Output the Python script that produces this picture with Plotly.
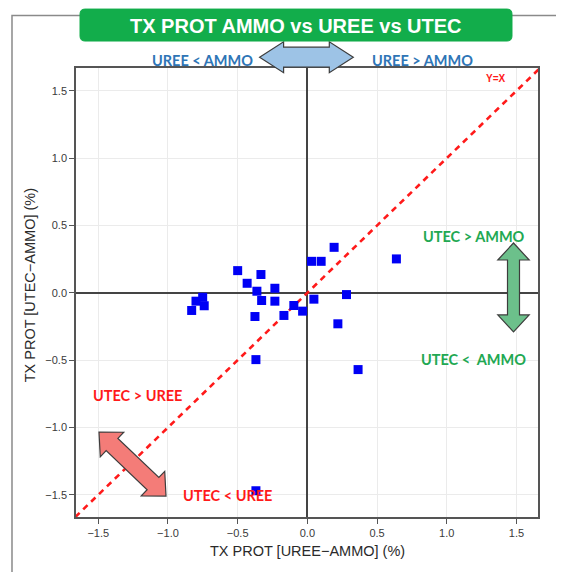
import math
import plotly.graph_objects as go

# ---- data ----
uree_minus_ammo = [0.192, 0.030, 0.099, 0.639, -0.500, -0.333, -0.432, -0.233, -0.362,
                   -0.751, -0.799, -0.328, -0.233, 0.047, 0.281, -0.740, -0.830, -0.097,
                   -0.034, -0.168, -0.376, 0.219, -0.369, 0.364, -0.369]
utec_minus_ammo = [0.338, 0.234, 0.234, 0.252, 0.165, 0.136, 0.071, 0.034, 0.012,
                   -0.033, -0.062, -0.057, -0.062, -0.047, -0.013, -0.096, -0.131, -0.094,
                   -0.136, -0.168, -0.176, -0.230, -0.496, -0.570, -1.470]
tick_vals = [-1.5, -1.0, -0.5, 0.0, 0.5, 1.0, 1.5]
x_range = [-1.66, 1.655]
y_range = [-1.665, 1.67]
diag = [-1.665, 1.665]

title_text = "TX PROT AMMO vs UREE vs UTEC"
x_title = "TX PROT [UREE\u2212AMMO] (%)"
y_title = "TX PROT [UTEC\u2212AMMO] (%)"

# ---- layout geometry (window pixels) ----
WIN_W, WIN_H = 564, 572
OFF = 8  # default body margin of the page
W, H = WIN_W - OFF, WIN_H - OFF
L, R, T, B = 76, 538, 67.5, 517


def px(x, y):
    return ((x - L) / (R - L), (B - y) / (B - T))


def path_from(points):
    parts = []
    for i, (x, y) in enumerate(points):
        u, v = px(x, y)
        parts.append(("M " if i == 0 else "L ") + f"{u:.5f},{v:.5f}")
    return " ".join(parts) + " Z"


def arrow_path(x1, y1, x2, y2, hl, hw, bw):
    dx, dy = x2 - x1, y2 - y1
    n = math.hypot(dx, dy)
    ux, uy = dx / n, dy / n
    nx, ny = -uy, ux
    local = [(0, 0), (hl, hw), (hl, bw), (n - hl, bw), (n - hl, hw), (n, 0),
             (n - hl, -hw), (n - hl, -bw), (hl, -bw), (hl, -hw)]
    pts = [(x1 + s * ux + t * nx, y1 + s * uy + t * ny) for s, t in local]
    return path_from(pts)


def rounded_rect(x0, y0, x1, y1, r):
    def p(x, y):
        u, v = px(x, y)
        return f"{u:.5f},{v:.5f}"
    return (f"M {p(x0 + r, y0)} L {p(x1 - r, y0)} Q {p(x1, y0)} {p(x1, y0 + r)} "
            f"L {p(x1, y1 - r)} Q {p(x1, y1)} {p(x1 - r, y1)} "
            f"L {p(x0 + r, y1)} Q {p(x0, y1)} {p(x0, y1 - r)} "
            f"L {p(x0, y0 + r)} Q {p(x0, y0)} {p(x0 + r, y0)} Z")


fig = go.Figure()

fig.add_trace(go.Scatter(
    x=diag, y=diag, mode="lines",
    line=dict(color="#FF1A1A", width=2.6, dash="6px,5px"),
    hoverinfo="skip", showlegend=False))

fig.add_trace(go.Scatter(
    x=uree_minus_ammo, y=utec_minus_ammo, mode="markers",
    marker=dict(symbol="square", size=9, color="#0000F5", line=dict(width=0)),
    showlegend=False))

axis_common = dict(
    tickvals=tick_vals, tickformat=".1f",
    showline=True, mirror=True, linecolor="#555555", linewidth=1.5,
    ticks="outside", ticklen=5, tickwidth=1.2, tickcolor="#555555",
    showgrid=True, gridcolor="#EBEBEB", gridwidth=1,
    zeroline=True, zerolinecolor="#444444", zerolinewidth=1.5,
    tickfont=dict(family="Liberation Sans, Arial", size=11, color="#3a3a3a"),
)

fp = lambda x, y: f"{px(x, y)[0]:.5f},{px(x, y)[1]:.5f}"

shapes = [
    # outer frame (top + left)
    dict(type="path", xref="paper", yref="paper",
         path=f"M {fp(12, 580)} L {fp(12, 15)} L {fp(570, 15)}",
         line=dict(color="#8a8a8a", width=1.5), fillcolor="rgba(0,0,0,0)"),
    # blue horizontal double arrow
    dict(type="path", xref="paper", yref="paper",
         path=arrow_path(259.6, 56.7, 353.3, 56.7, 24, 15.5, 10),
         fillcolor="#9DC3E6", line=dict(color="#3d3d3d", width=1.2)),
    # title box
    dict(type="path", xref="paper", yref="paper",
         path=rounded_rect(80, 8.5, 512, 40.5, 5),
         fillcolor="#12AD4B", line=dict(color="#12AD4B", width=1)),
    # green vertical double arrow
    dict(type="path", xref="paper", yref="paper",
         path=arrow_path(513.5, 242.7, 513.5, 331.7, 17, 15.7, 6),
         fillcolor="#6CC08B", line=dict(color="#3d3d3d", width=1.2)),
    # red diagonal double arrow
    dict(type="path", xref="paper", yref="paper",
         path=arrow_path(99, 432, 166, 496, 18, 17, 8.5),
         fillcolor="#F47C78", line=dict(color="#3d3d3d", width=1.2)),
]


def ann(text, x, y, color, size, family="Lato", angle=0):
    u, v = px(x, y)
    return dict(text=text, x=u, y=v, xref="paper", yref="paper",
                xanchor="center", yanchor="middle", showarrow=False,
                textangle=angle, font=dict(family=family, size=size, color=color))


annotations = [
    ann(f"<b>{title_text}</b>", 296, 25, "white", 20, family="Liberation Sans, Arial"),
    ann("<b>UREE &lt; AMMO</b>", 202, 60, "#2E75B6", 14.5),
    ann("<b>UREE &gt; AMMO</b>", 422, 60, "#2E75B6", 14.5),
    ann("<b>UTEC &gt; AMMO</b>", 473.7, 236, "#22A852", 14.5),
    ann("<b>UTEC &lt;  AMMO</b>", 473, 359.3, "#22A852", 14.5),
    ann("<b>UTEC &gt; UREE</b>", 137.5, 395, "#FF1A1A", 14.5),
    ann("<b>UTEC &lt; UREE</b>", 227.8, 495, "#FF1A1A", 14.5),
    ann("<b>Y=X</b>", 496, 77.7, "#FF1A1A", 10, family="Liberation Sans, Arial"),
    ann(x_title, 307, 551, "#2a2a2a", 14.5, family="Liberation Sans, Arial"),
    ann(y_title, 30, 285, "#2a2a2a", 14.5, family="Liberation Sans, Arial", angle=-90),
]

fig.update_layout(
    width=W, height=H,
    margin=dict(l=L - OFF, r=WIN_W - R, t=T - OFF, b=WIN_H - B, pad=0),
    paper_bgcolor="white", plot_bgcolor="white",
    xaxis=dict(range=x_range, **axis_common),
    yaxis=dict(range=y_range, **axis_common),
    shapes=shapes, annotations=annotations,
    showlegend=False,
)

fig.write_html("out.html")
